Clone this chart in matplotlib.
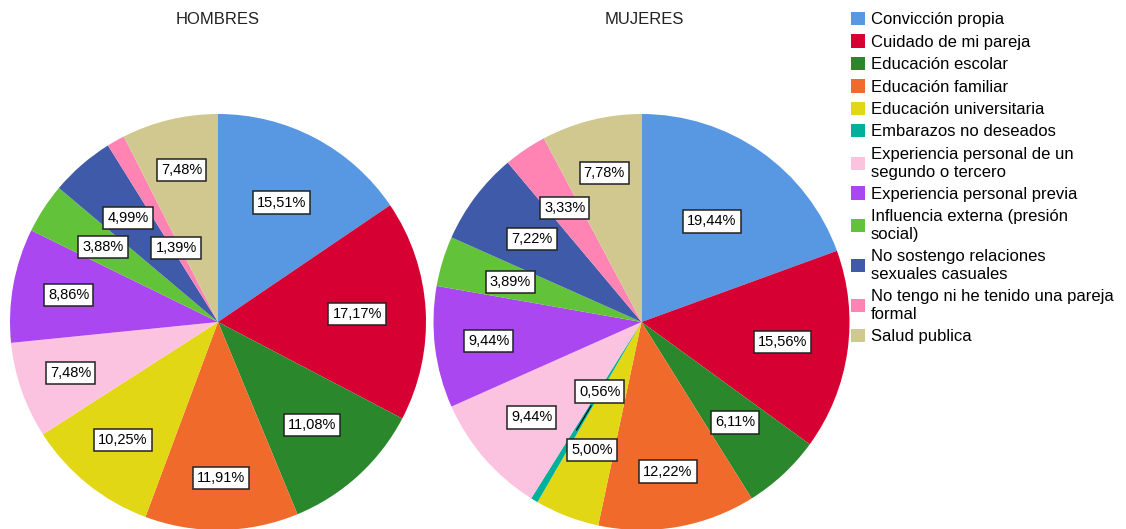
import numpy as np
import matplotlib
matplotlib.use('Agg')
import matplotlib.pyplot as plt

plt.rcParams['font.family'] = ['Liberation Sans', 'DejaVu Sans']

# datos
categorias = ['Convicción propia', 'Cuidado de mi pareja', 'Educación escolar',
              'Educación familiar', 'Educación universitaria', 'Embarazos no deseados',
              'Experiencia personal de un\nsegundo o tercero', 'Experiencia personal previa',
              'Influencia externa (presión\nsocial)', 'No sostengo relaciones\nsexuales casuales',
              'No tengo ni he tenido una pareja\nformal', 'Salud publica']
hombres = [15.51, 17.17, 11.08, 11.91, 10.25, 0.00, 7.48, 8.86, 3.88, 4.99, 1.39, 7.48]
mujeres = [19.44, 15.56, 6.11, 12.22, 5.00, 0.56, 9.44, 9.44, 3.89, 7.22, 3.33, 7.78]

colores = ['#5897e2', '#d60032', '#2b872b', '#f06a2c', '#e2d714', '#00b09b',
           '#fcc3e0', '#aa47f0', '#62c33a', '#3e5aa8', '#ff83b3', '#d1c88f']

# distancia radial de cada etiqueta (fraccion del radio)
dist_h = [0.65, 0.67, 0.67, 0.75, 0.73, 0.6, 0.75, 0.73, 0.66, 0.66, 0.41, 0.75]
dist_m = [0.59, 0.685, 0.66, 0.73, 0.66, 0.39, 0.70, 0.74, 0.66, 0.66, 0.66, 0.74]

W, H = 1126, 529
fig = plt.figure(figsize=(W / 100, H / 100), dpi=100)
R = 208


def pastel(cx, cy, valores, dist, titulo, tx):
    ax = fig.add_axes([(cx - R) / W, (H - cy - R) / H, 2 * R / W, 2 * R / H])
    wedges, _ = ax.pie(valores, colors=colores, startangle=90, counterclock=False,
                       radius=1, wedgeprops=dict(linewidth=0))
    ax.set_xlim(-1, 1)
    ax.set_ylim(-1, 1)
    ax.axis('off')
    for w, v, d in zip(wedges, valores, dist):
        if v == 0:
            continue
        ang = np.deg2rad((w.theta1 + w.theta2) / 2)
        x, y = d * np.cos(ang), d * np.sin(ang)
        txt = f'{v:.2f}%'.replace('.', ',')
        caja = dict(boxstyle='square,pad=0.28', fc='white', ec='#222222', lw=1.1)
        if v < 1:
            ax.annotate(txt, xy=(0.62 * np.cos(ang), 0.62 * np.sin(ang)), xytext=(x, y),
                        ha='center', va='center', fontsize=10.5, bbox=caja,
                        arrowprops=dict(arrowstyle='-', color='black', lw=0.8))
        else:
            ax.text(x, y, txt, ha='center', va='center', fontsize=10.5, bbox=caja)
    fig.text(tx / W, 1 - 20 / H, titulo, ha='center', va='center', fontsize=12, color='#222222')
    return wedges


wh = pastel(218, 322, hombres, dist_h, 'HOMBRES', 218)
pastel(641.5, 322, mujeres, dist_m, 'MUJERES', 644)

leg = fig.legend(wh, categorias, loc='upper left', bbox_to_anchor=(851 / W, 1 - 12 / H),
                 frameon=False, fontsize=12, borderpad=0, borderaxespad=0,
                 handlelength=0.85, handleheight=0.85, handletextpad=0.35,
                 labelspacing=0.42)
for t in leg.get_texts():
    t.set_linespacing(1.25)

fig.savefig('out.png', dpi=100)
